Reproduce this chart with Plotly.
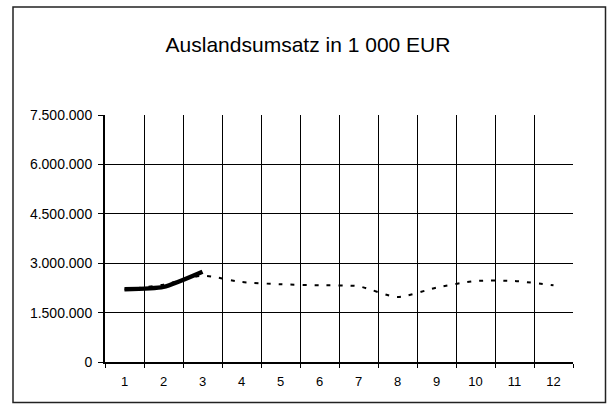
import plotly.graph_objects as go

months = list(range(1, 13))
month_labels = [str(m) for m in months]
prev_year = [2200000, 2350000, 2620000, 2430000, 2360000, 2330000,
             2300000, 1970000, 2260000, 2460000, 2460000, 2330000]
curr_year = [2210000, 2280000, 2740000]
y_ticks = [0, 1500000, 3000000, 4500000, 6000000, 7500000]

W, H = 611, 406
ML, MR, MT, MB = 105, 38, 115, 44
PW, PH = W - ML - MR, H - MT - MB

def px_x(p):
    return (p - ML) / PW

def px_y(p):
    return (H - MB - p) / PH

fig = go.Figure()
fig.add_trace(go.Scatter(
    x=months, y=prev_year, mode="lines",
    line=dict(color="black", width=2, dash="4px,8px", shape="spline", smoothing=0.6),
    showlegend=False, hoverinfo="skip"))
fig.add_trace(go.Scatter(
    x=months[:len(curr_year)], y=curr_year, mode="lines",
    line=dict(color="black", width=4.5, shape="spline", smoothing=0.6),
    showlegend=False, hoverinfo="skip"))

fig.update_layout(
    width=W, height=H,
    margin=dict(l=ML, r=MR, t=MT, b=MB),
    paper_bgcolor="white", plot_bgcolor="white",
    separators=",.",
    font=dict(family="Liberation Sans, Arial, sans-serif", color="black"),
    title=dict(text="Auslandsumsatz in 1 000 EUR", x=308 / W, xref="container",
               xanchor="center", y=1 - 45 / H, yref="container", yanchor="middle",
               font=dict(size=21, family="Liberation Sans, Arial, sans-serif", color="black")),
    xaxis=dict(range=[0.5, 12.5], tickmode="array", tickvals=months, ticktext=month_labels,
               ticks="", showgrid=False, zeroline=False,
               showline=True, linecolor="black", linewidth=2,
               tickfont=dict(size=13), ticklabelstandoff=6,
               minor=dict(tickmode="linear", tick0=0.5, dtick=1, showgrid=True,
                          gridcolor="black", gridwidth=1, ticks="outside",
                          ticklen=4, tickcolor="black", tickwidth=1)),
    yaxis=dict(range=[0, 7500000], tickmode="array", tickvals=y_ticks,
               tickformat=",d", ticks="outside", ticklen=5, tickcolor="black",
               showgrid=True, gridcolor="black", gridwidth=1, zeroline=False,
               showline=True, linecolor="black", linewidth=2,
               tickfont=dict(size=14), ticklabelstandoff=3),
    shapes=[dict(type="rect", xref="paper", yref="paper",
                 x0=px_x(13), x1=px_x(605.5), y0=px_y(402.5), y1=px_y(7),
                 line=dict(color="#222", width=1.5), fillcolor="rgba(0,0,0,0)",
                 layer="below")],
)

fig.write_html("out.html", config={"displayModeBar": False},
               post_script="document.body.style.margin='0';")
